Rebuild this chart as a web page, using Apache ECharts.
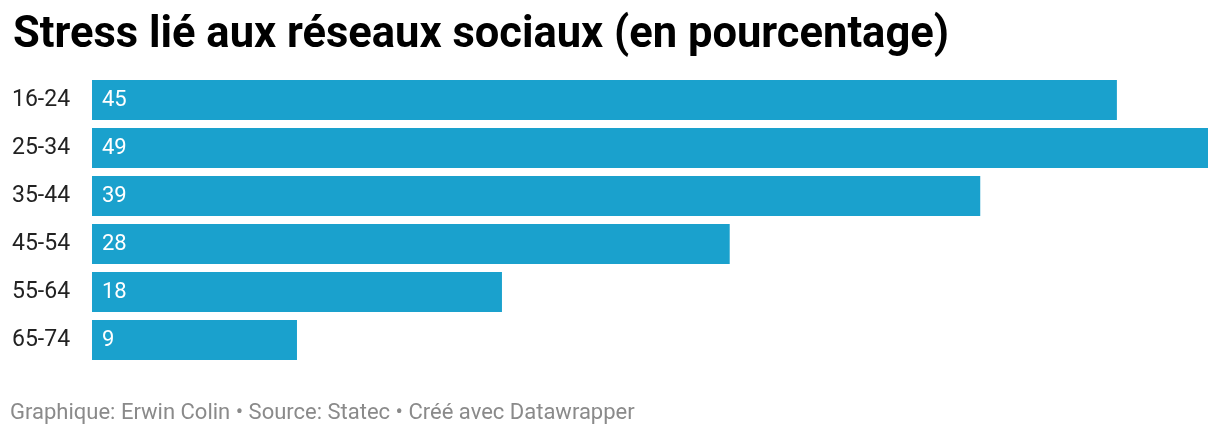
<!DOCTYPE html>
<html>
<head>
<meta charset="utf-8">
<script src="https://cdn.jsdelivr.net/npm/echarts@6/dist/echarts.min.js"></script>
<style>
  html, body { margin: 0; padding: 0; background: #fff; }
  #chart { width: 1220px; height: 436px; }
</style>
</head>
<body>
<div id="chart"></div>
<script>
  // tranches d'âge et valeurs (en %)
  const categories = ["16-24", "25-34", "35-44", "45-54", "55-64", "65-74"];
  const values = [45, 49, 39, 28, 18, 9];

  const chart = echarts.init(document.getElementById("chart"));

  const option = {
    animation: false,
    title: [
      {
        text: "Stress lié aux réseaux sociaux (en pourcentage)",
        left: 8,
        top: 9,
        textStyle: {
          fontFamily: "Roboto",
          fontWeight: "bold",
          fontSize: 43.5,
          color: "#000",
        },
      },
      {
        text: "Graphique: Erwin Colin • Source: Statec • Créé avec Datawrapper",
        left: 5,
        top: 397,
        textStyle: {
          fontFamily: "Roboto",
          fontWeight: "normal",
          fontSize: 22,
          color: "#8a8a8a",
        },
      },
    ],
    grid: {
      left: 92,
      right: 12,
      top: 76,
      height: 288,
    },
    xAxis: {
      type: "value",
      min: 0,
      max: 49,
      show: false,
    },
    yAxis: {
      type: "category",
      data: categories,
      inverse: true,
      axisLine: { show: false },
      axisTick: { show: false },
      axisLabel: {
        margin: 80,
        align: "left",
        fontFamily: "Roboto",
        fontSize: 23,
        color: "#222",
      },
    },
    series: [
      {
        type: "bar",
        data: values,
        barWidth: 40,
        itemStyle: { color: "#1aa1cd" },
        label: {
          show: true,
          position: "insideLeft",
          distance: 10,
          fontFamily: "Roboto",
          fontSize: 22,
          color: "#fff",
        },
      },
    ],
  };

  chart.setOption(option);
</script>
</body>
</html>
